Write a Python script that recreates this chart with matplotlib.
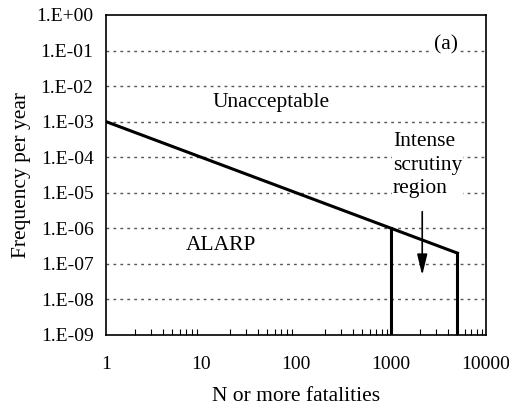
import matplotlib.pyplot as plt
from matplotlib.ticker import LogLocator, FixedLocator

plt.rcParams['font.family'] = ['Liberation Serif', 'DejaVu Serif']

# F-N criterion line and the intense scrutiny cut-offs
n_line = [1, 1000, 5000]
f_line = [1e-3, 1e-6, 2e-7]
n_cut = [1000, 5000]
f_cut = [1e-6, 2e-7]

y_ticks = [10.0 ** -k for k in range(0, 10)]
y_labels = ["1.E+00", "1.E-01", "1.E-02", "1.E-03", "1.E-04", "1.E-05",
            "1.E-06", "1.E-07", "1.E-08", "1.E-09"]
x_ticks = [1, 10, 100, 1000, 10000]
x_labels = ["1", "10", "100", "1000", "10000"]

fig = plt.figure(figsize=(5.1, 4.05), dpi=100)
ax = fig.add_axes([0.208, 0.173, 0.745, 0.79])

ax.set_xscale('log')
ax.set_yscale('log')
ax.set_xlim(1, 10000)
ax.set_ylim(1e-9, 1)

for y in y_ticks[1:-1]:
    ax.axhline(y, color='#555555', lw=1.0, ls=(0, (2, 3)), zorder=1)

ax.plot(n_line, f_line, color='black', lw=2.2, zorder=3)
for n, f in zip(n_cut, f_cut):
    ax.plot([n, n], [1e-9, f], color='black', lw=2.2, zorder=3)

ax.set_yticks(y_ticks)
ax.set_yticklabels(y_labels)
ax.yaxis.set_minor_locator(FixedLocator([]))
ax.set_xticks(x_ticks)
ax.set_xticklabels(x_labels)
ax.xaxis.set_minor_locator(LogLocator(base=10, subs=range(2, 10)))
ax.tick_params(axis='x', which='major', direction='in', length=0, pad=15, labelsize=14)
ax.tick_params(axis='x', which='minor', direction='in', length=4, width=0.8)
ax.tick_params(axis='y', which='major', direction='in', length=0, pad=9, labelsize=14)

for s in ax.spines.values():
    s.set_linewidth(1.2)

ax.set_xlabel("N or more fatalities", fontsize=15.5, labelpad=10)
ax.set_ylabel("Frequency per year", fontsize=15.5, labelpad=4)

box = dict(facecolor='white', edgecolor='none', pad=1)
ax.text(0.926, 0.906, "(a)", transform=ax.transAxes, fontsize=15.5,
        ha='right', va='center', bbox=box, zorder=4)
ax.text(0.28, 0.725, "Unacceptable", transform=ax.transAxes, fontsize=15.5,
        ha='left', va='center', zorder=4)
ax.text(0.21, 0.28, "ALARP", transform=ax.transAxes, fontsize=15.5,
        ha='left', va='center', zorder=4)
ax.text(0.755, 0.531, "Intense\nscrutiny\nregion", transform=ax.transAxes,
        fontsize=15.5, ha='left', va='center', linespacing=1.35,
        bbox=box, zorder=4)
ax.annotate("", xy=(2130, 4e-8), xytext=(2130, 3.5e-6),
            arrowprops=dict(arrowstyle='-|>,head_length=0.9,head_width=0.22',
                            color='black', lw=1.2, mutation_scale=14))

fig.savefig("out.png", dpi=100)
